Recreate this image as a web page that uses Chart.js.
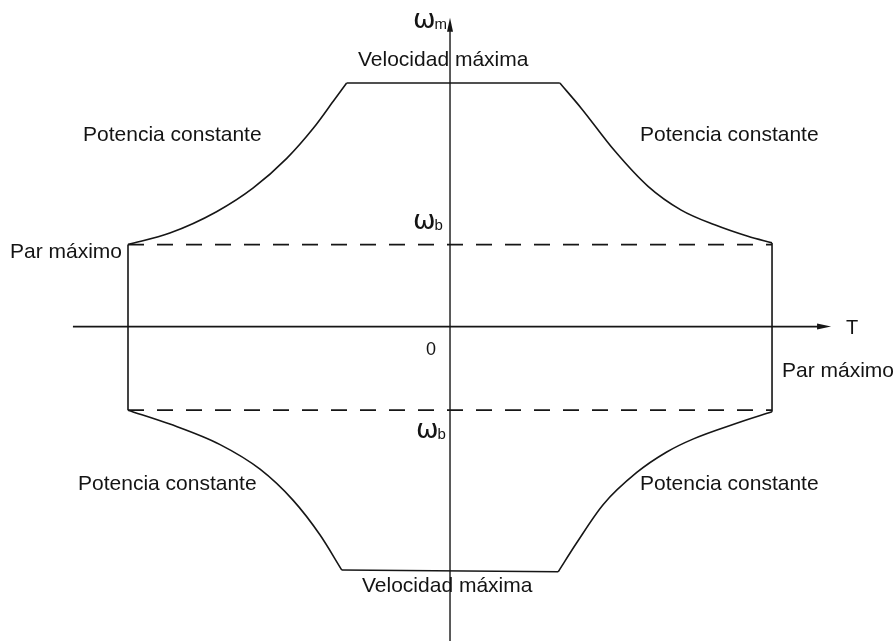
<!DOCTYPE html>
<html>
<head>
<meta charset="utf-8">
<script src="https://cdn.jsdelivr.net/npm/chart.js@4"></script>
<style>
  html, body { margin: 0; padding: 0; background: #ffffff; }
  #wrap { width: 896px; height: 641px; position: relative; }
</style>
</head>
<body>
<div id="wrap"><canvas id="c"></canvas></div>
<script>
// Torque (T, per unit of maximum torque) and speed (ωm, per unit of base speed ωb)

// Constant-power branches
const upperLeftT  = [-1.000, -0.870, -0.725, -0.611, -0.507, -0.424, -0.362, -0.321];
const upperLeftW  = [ 1.00,   1.14,   1.40,   1.69,   2.05,   2.42,   2.75,   2.97];
const upperRightT = [ 0.341,  0.408,  0.512,  0.615,  0.718,  0.822,  0.925,  1.000];
const upperRightW = [ 2.97,   2.66,   2.14,   1.71,   1.42,   1.24,   1.10,   1.02];
const lowerLeftT  = [-1.000, -0.870, -0.714, -0.590, -0.487, -0.404, -0.336];
const lowerLeftW  = [-1.02,  -1.19,  -1.44,  -1.74,  -2.12,  -2.54,  -2.97];
const lowerRightT = [ 0.336,  0.393,  0.476,  0.580,  0.673,  0.756,  0.890,  1.000];
const lowerRightW = [-2.99,  -2.64,  -2.17,  -1.78,  -1.53,  -1.37,  -1.18,  -1.04];

// Maximum-speed segments
const topSpeedT    = [-0.321, 0.341];
const topSpeedW    = [ 2.97,  2.97];
const bottomSpeedT = [-0.336, 0.336];
const bottomSpeedW = [-2.97, -2.99];

// Maximum-torque segments
const leftTorqueT  = [-1.000, -1.000];
const leftTorqueW  = [ 1.00,  -1.02];
const rightTorqueT = [ 1.000,  1.000];
const rightTorqueW = [ 1.02,  -1.04];

// Base-speed levels (dashed)
const baseSpeedLevels = [1.00, -1.02];
const baseSpeedSpanT  = [-1.000, 1.000];

// Axis extents
const torqueAxisT = [-1.171, 1.143];
const speedAxisW  = [-3.85, 3.62];

const zip = (xs, ys) => xs.map((x, i) => ({ x: x, y: ys[i] }));

const ink = '#161616';

function outline(xs, ys, smooth) {
  return {
    data: zip(xs, ys),
    showLine: true,
    borderColor: ink,
    borderWidth: 1.6,
    pointRadius: 0,
    fill: false,
    cubicInterpolationMode: smooth ? 'monotone' : 'default',
    tension: 0,
    clip: false
  };
}

const datasets = [
  outline(upperLeftT, upperLeftW, true),
  outline(upperRightT, upperRightW, true),
  outline(lowerLeftT, lowerLeftW, true),
  outline(lowerRightT, lowerRightW, true),
  outline(topSpeedT, topSpeedW, false),
  outline(bottomSpeedT, bottomSpeedW, false),
  outline(leftTorqueT, leftTorqueW, false),
  outline(rightTorqueT, rightTorqueW, false)
];

baseSpeedLevels.forEach(w => {
  const ds = outline(baseSpeedSpanT, [w, w], false);
  ds.borderDash = [16, 13];
  ds.borderWidth = 1.7;
  datasets.push(ds);
});

// Axes drawn as lines through the origin
const torqueAxis = outline(torqueAxisT, [0, 0], false);
torqueAxis.borderWidth = 1.7;
datasets.push(torqueAxis);
const speedAxis = outline([0, 0], speedAxisW, false);
speedAxis.borderWidth = 1.4;
datasets.push(speedAxis);

// Arrowheads at the axis ends and all the text labels
const annotate = {
  id: 'annotate',
  afterDatasetsDraw(chart) {
    const ctx = chart.ctx;
    const xs = chart.scales.x, ys = chart.scales.y;
    const ox = xs.getPixelForValue(0), oy = ys.getPixelForValue(0);
    const tx = xs.getPixelForValue(torqueAxisT[1]);
    const ty = ys.getPixelForValue(speedAxisW[1]);

    ctx.save();
    ctx.fillStyle = ink;
    // torque arrow
    ctx.beginPath();
    ctx.moveTo(tx + 13, oy);
    ctx.lineTo(tx - 1, oy - 3);
    ctx.lineTo(tx - 1, oy + 3);
    ctx.closePath();
    ctx.fill();
    // speed arrow
    ctx.beginPath();
    ctx.moveTo(ox, ty - 12);
    ctx.lineTo(ox - 3, ty + 2);
    ctx.lineTo(ox + 3, ty + 2);
    ctx.closePath();
    ctx.fill();

    ctx.fillStyle = '#141414';
    ctx.textBaseline = 'middle';
    ctx.textAlign = 'left';
    ctx.font = '21px "Liberation Sans", Arial, sans-serif';
    const labels = [
      ['Velocidad máxima', 358, 60],
      ['Velocidad máxima', 362, 586],
      ['Potencia constante', 83, 135],
      ['Potencia constante', 640, 135],
      ['Potencia constante', 78, 484],
      ['Potencia constante', 640, 484],
      ['Par máximo', 10, 252],
      ['Par máximo', 782, 371]
    ];
    labels.forEach(([s, x, y]) => ctx.fillText(s, x, y));

    ctx.font = '20px "Liberation Sans", Arial, sans-serif';
    ctx.fillText('T', 846, 328);
    ctx.font = '18px "Liberation Sans", Arial, sans-serif';
    ctx.fillText('0', 426, 350);

    // ω symbols with subscripts
    ctx.textBaseline = 'alphabetic';
    const omega = (sub, x, base) => {
      ctx.font = '27px "DejaVu Sans", sans-serif';
      ctx.fillText('ω', x, base);
      const w = ctx.measureText('ω').width;
      ctx.font = '15px "Liberation Sans", Arial, sans-serif';
      ctx.fillText(sub, x + w - 1, base + 1);
    };
    omega('m', 413, 28);
    omega('b', 413, 229);
    omega('b', 416, 438);
    ctx.restore();
  }
};

new Chart(document.getElementById('c'), {
  type: 'scatter',
  data: { datasets: datasets },
  options: {
    responsive: true,
    maintainAspectRatio: false,
    animation: false,
    layout: { padding: 0 },
    plugins: { legend: { display: false }, tooltip: { enabled: false } },
    scales: {
      x: { type: 'linear', min: -1.3975, max: 1.385, display: false },
      y: { type: 'linear', min: -3.835, max: 3.982, display: false }
    }
  },
  plugins: [annotate]
});
</script>
</body>
</html>
